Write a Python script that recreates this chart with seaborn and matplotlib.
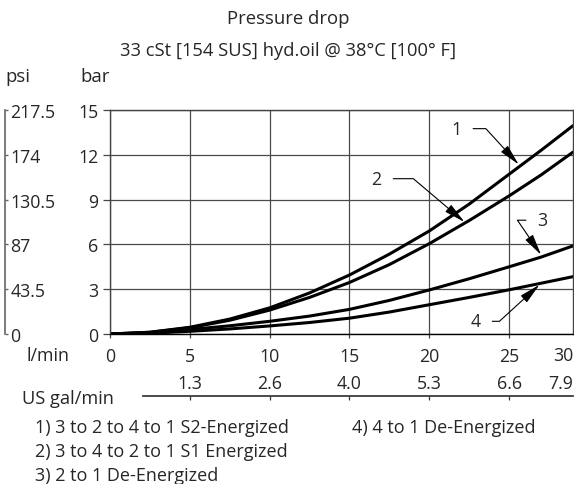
import matplotlib
matplotlib.use("Agg")
import matplotlib.pyplot as plt
import seaborn as sns
import pandas as pd

# ---------------- data ----------------
flow_lpm = [0, 2.5, 5, 7.5, 10, 12.5, 15, 17.5, 20, 22.5, 25, 27, 29]
curve1 = [0, 0.12, 0.45, 1.0, 1.75, 2.75, 3.95, 5.35, 6.9, 8.7, 10.7, 12.3, 13.95]
curve2 = [0, 0.11, 0.42, 0.92, 1.6, 2.45, 3.45, 4.65, 6.05, 7.6, 9.25, 10.65, 12.18]
curve3 = [0, 0.08, 0.3, 0.55, 0.85, 1.2, 1.65, 2.25, 2.95, 3.7, 4.5, 5.15, 5.9]
curve4 = [0, 0.05, 0.18, 0.34, 0.54, 0.77, 1.06, 1.47, 1.96, 2.45, 2.96, 3.4, 3.84]
curve_names = ["1", "2", "3", "4"]

bar_ticks = [0, 3, 6, 9, 12, 15]
psi_ticks = [0, 43.5, 87, 130.5, 174, 217.5]
psi_labels = ["0", "43.5", "87", "130.5", "174", "217.5"]
lpm_ticks = [0, 5, 10, 15, 20, 25, 30]
lpm_labels = ["0", "5", "10", "15", "20", "25", "30"]
gal_labels = ["1.3", "2.6", "4.0", "5.3", "6.6", "7.9"]

title = "Pressure drop"
subtitle = "33 cSt [154 SUS] hyd.oil @ 38°C [100° F]"
legend_lines = ["1) 3 to 2 to 4 to 1 S2-Energized",
                "2) 3 to 4 to 2 to 1 S1 Energized",
                "3) 2 to 1 De-Energized"]
legend_right = "4) 4 to 1 De-Energized"

# label positions (text xy, arrow tip xy) in data units
label_text = {"1": (21.7, 13.75), "2": (16.7, 10.4), "3": (27.1, 7.62), "4": (22.9, 0.85)}
label_tip = {"1": (25.6, 11.35), "2": (22.2, 7.5), "3": (27.0, 5.3), "4": (26.9, 3.3)}
label_angle = {"1": -47.5, "2": -40.3, "3": -55.7, "4": 42.4}

# ---------------- build frame ----------------
rows = []
for name, vals in zip(curve_names, [curve1, curve2, curve3, curve4]):
    for f, v in zip(flow_lpm, vals):
        rows.append({"flow": f, "dp": v, "curve": name})
df = pd.DataFrame(rows)

sns.set_theme(style="white")
FONT = ["Open Sans", "DejaVu Sans"]
plt.rcParams["font.family"] = FONT
TICK_FS = 12.8

W, H = 574, 485
fig = plt.figure(figsize=(W / 100, H / 100), dpi=100)
fig.patch.set_facecolor("white")
L, R, T, B = 110, 573, 111, 335
ax = fig.add_axes([L / W, 1 - B / H, (R - L) / W, (B - T) / H])
ax.set_facecolor("white")

sns.lineplot(data=df, x="flow", y="dp", hue="curve", palette=["black"] * 4,
             linewidth=2.2, legend=False, estimator=None, sort=False, ax=ax)

ax.set_xlabel("")
ax.set_ylabel("")
ax.set_xticks(lpm_ticks)
ax.set_xticklabels(lpm_labels)
ax.set_yticks(bar_ticks)
ax.set_xlim(0, 29)
ax.set_ylim(0, 15)
ax.grid(True, color="#4a4a4a", linewidth=0.9)
for s in ax.spines.values():
    s.set_color("#444444")
    s.set_linewidth(1.0)
ax.spines["bottom"].set_color("black")
ax.tick_params(axis="y", direction="out", length=5, width=0.9, color="#444444",
               pad=3.5, labelsize=TICK_FS, left=True)
ax.tick_params(axis="x", direction="out", length=3, width=0.9, color="#444444",
               pad=6.5, labelsize=TICK_FS, bottom=True)

# last x label ("30") sits at the right edge of the cropped axis
ax.annotate(lpm_labels[-1], xy=(1.0, 0), xycoords="axes fraction",
            xytext=(0, -(3 + 6.5 / 0.72)), textcoords="offset pixels",
            ha="right", va="top", fontsize=TICK_FS)

# psi axis on far left
axp = ax.twinx()
axp.set_yticks(psi_ticks)
axp.set_yticklabels(psi_labels)
axp.set_ylim(0, 217.5)
axp.spines["right"].set_position(("axes", -0.2268))
for k in ["left", "top", "bottom"]:
    axp.spines[k].set_visible(False)
axp.spines["right"].set_color("#666666")
axp.spines["right"].set_linewidth(1.2)
axp.yaxis.tick_right()
axp.tick_params(axis="y", direction="out", length=2, width=1, color="#666666",
                pad=2, labelsize=TICK_FS)
axp.grid(False)

# US gal/min axis below
GAL_POS = -0.2768
axg = ax.twiny()
axg.set_xticks(lpm_ticks[1:])
axg.set_xticklabels(gal_labels)
axg.set_xlim(0, 29)
axg.spines["top"].set_position(("axes", GAL_POS))
for k in ["left", "right", "bottom"]:
    axg.spines[k].set_visible(False)
axg.spines["top"].set_bounds(2.06, 29)
axg.spines["top"].set_color("#333333")
axg.xaxis.tick_top()
axg.tick_params(axis="x", direction="in", length=3, width=0.9, color="#333333",
                pad=3, labelsize=TICK_FS)
axg.grid(False)
ax.annotate(gal_labels[-1], xy=(1.0, GAL_POS), xycoords="axes fraction",
            xytext=(0, 3 / 0.72), textcoords="offset pixels",
            ha="right", va="bottom", fontsize=TICK_FS)

# curve labels with leaders
for name in curve_names:
    ax.annotate(name, xy=label_tip[name], xytext=label_text[name],
                ha="center", va="center", fontsize=TICK_FS,
                arrowprops=dict(arrowstyle="-|>,head_length=1.3,head_width=0.28",
                                connectionstyle=f"angle,angleA=0,angleB={label_angle[name]},rad=0",
                                color="black", lw=0.8, shrinkA=6, shrinkB=0,
                                mutation_scale=10))

# free texts
def ftext(x, y, s, ha="left", va="baseline", fs=12):
    return fig.text(x / W, 1 - y / H, s, ha=ha, va=va, fontsize=fs)

t_title = ftext(288, 24, title, ha="center")
t_sub = ftext(288, 56, subtitle, ha="center")
t_psi = ftext(5, 82, "psi")
t_bar = ftext(80, 82, "bar")
t_lpm = ftext(27, 361, "l/min")
t_gal = ftext(22, 404, "US gal/min")
t_leg = [ftext(35, 433 + 24 * i, line) for i, line in enumerate(legend_lines)]
t_leg4 = ftext(352, 433, legend_right)

# fit font sizes to the widths measured on the reference (pixels)
fig.canvas.draw()
renderer = fig.canvas.get_renderer()

def fit(texts, target):
    w = texts[0].get_window_extent(renderer).width
    fs = texts[0].get_fontsize() * target / w
    for t in texts:
        t.set_fontsize(fs)
    return fs

fs_title = fit([t_title], 121)
fit([t_sub], 337)
fit(t_leg + [t_leg4], 254)
fit([t_gal], 92)
fit([t_lpm], 43)
t_psi.set_fontsize(fs_title)
t_bar.set_fontsize(fs_title)

fig.savefig("out.png", dpi=100, facecolor="white")
